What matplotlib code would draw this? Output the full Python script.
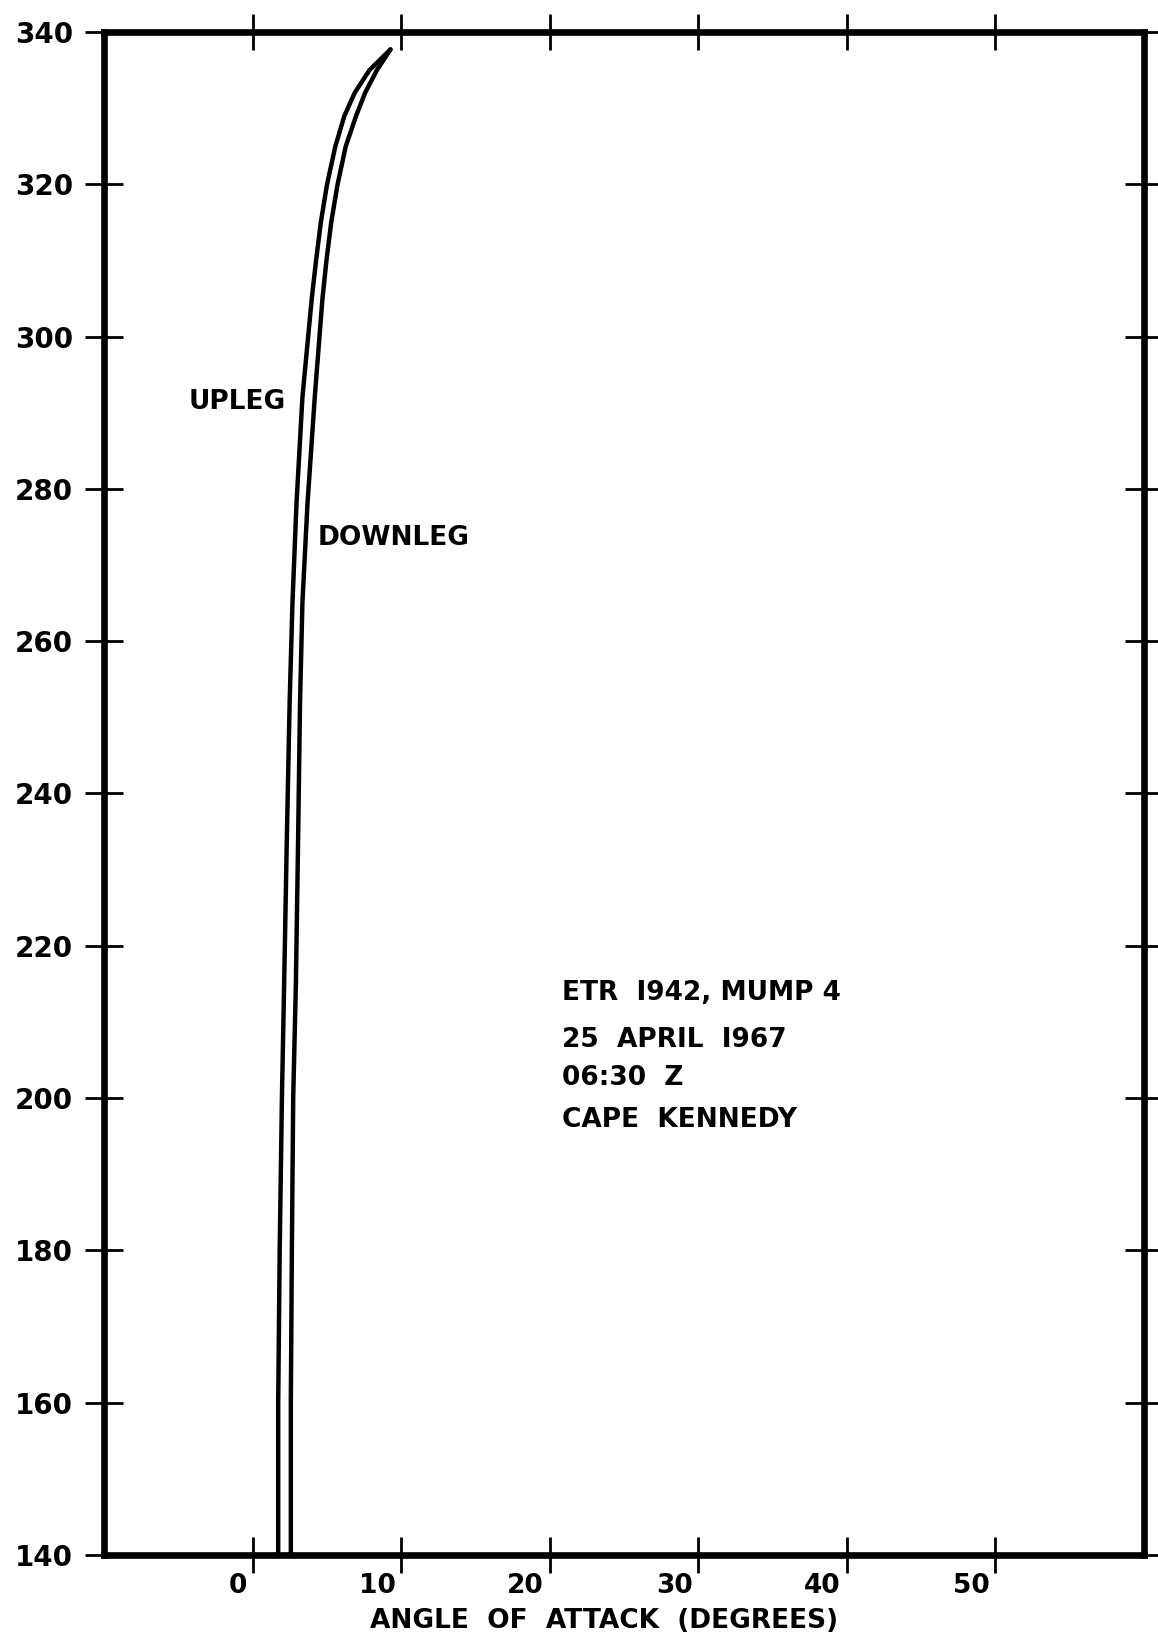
import matplotlib
matplotlib.use("Agg")
import matplotlib.pyplot as plt
from matplotlib.transforms import ScaledTranslation

# Altitude (km) and angle of attack (degrees) for the two legs of the flight
altitude = [140, 160, 180, 200, 215, 234, 252, 265, 278, 292, 305, 310, 315,
            320, 325, 329, 332, 335, 337.7]
upleg = [1.70, 1.70, 1.80, 1.95, 2.10, 2.28, 2.47, 2.66, 2.93, 3.33, 3.96, 4.25, 4.57,
         4.99, 5.55, 6.16, 6.85, 7.85, 9.26]
downleg = [2.55, 2.55, 2.62, 2.71, 2.89, 3.04, 3.17, 3.33, 3.67, 4.16, 4.68, 4.95, 5.27,
           5.70, 6.25, 6.95, 7.55, 8.35, 9.26]

x_ticks = [0, 10, 20, 30, 40, 50]
y_ticks = [140, 160, 180, 200, 220, 240, 260, 280, 300, 320, 340]
x_label = "ANGLE  OF  ATTACK  (DEGREES)"
info_lines = ["ETR  I942, MUMP 4", "25  APRIL  I967", "06:30  Z", "CAPE  KENNEDY"]

plt.rcParams["font.family"] = ["DejaVu Sans"]
plt.rcParams["font.weight"] = "bold"

fig = plt.figure(figsize=(11.58, 16.38), dpi=100)
ax = fig.add_axes([0.0902, 0.0507, 0.8977, 0.9298])

ax.plot(upleg, altitude, color="black", lw=3.2, solid_capstyle="round", solid_joinstyle="round")
ax.plot(downleg, altitude, color="black", lw=3.2, solid_capstyle="round", solid_joinstyle="round")

ax.set_xlim(-10, 60)
ax.set_ylim(140, 340)

for sp in ax.spines.values():
    sp.set_linewidth(4.8)

ax.set_xticks(x_ticks)
ax.set_xticklabels([str(v) for v in x_ticks])
ax.set_yticks(y_ticks)
ax.set_yticklabels([str(v) for v in y_ticks])

ax.tick_params(axis="x", which="major", direction="inout", length=26, width=2.0,
               top=True, bottom=True, labeltop=False, labelsize=19, pad=0)
ax.tick_params(axis="y", which="major", direction="inout", length=27, width=2.0,
               left=True, right=True, labelright=False, labelsize=20, pad=9)

# x tick labels sit just to the left of their ticks
shift = ScaledTranslation(-6 / 100, 0, fig.dpi_scale_trans)
for lbl in ax.get_xticklabels():
    lbl.set_horizontalalignment("right")
    lbl.set_transform(lbl.get_transform() + shift)

ax.set_xlabel(x_label, fontsize=19, va="center", fontweight="bold")
ax.xaxis.set_label_coords(0.4805, -0.0433)

ax.text(-4.36, 291.4, "UPLEG", fontsize=19, va="center", ha="left")
ax.text(4.36, 273.6, "DOWNLEG", fontsize=19, va="center", ha="left")

info_y = [213.8, 207.6, 202.6, 197.1]
for txt, yy in zip(info_lines, info_y):
    ax.text(20.8, yy, txt, fontsize=19, va="center", ha="left")

fig.savefig("out.png", dpi=100)
